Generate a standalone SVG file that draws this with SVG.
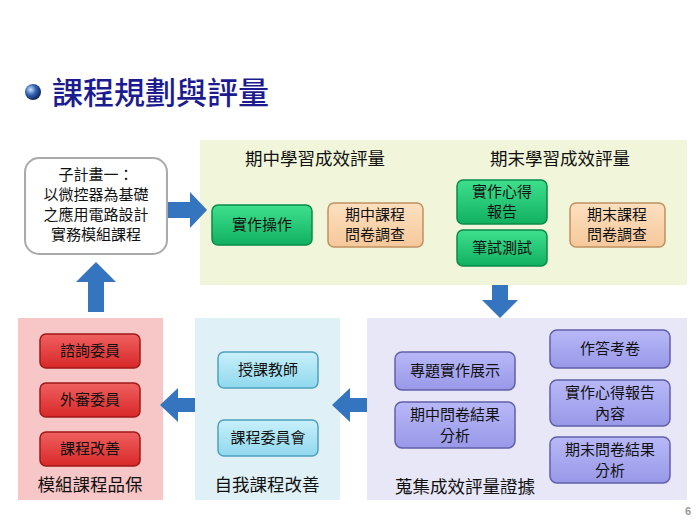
<svg xmlns="http://www.w3.org/2000/svg" width="700" height="525" viewBox="0 0 700 525">
<defs>
<radialGradient id="ball" cx="0.35" cy="0.35" r="0.7"><stop offset="0" stop-color="#cfe0ff"/><stop offset="0.5" stop-color="#3060b0"/><stop offset="1" stop-color="#102050"/></radialGradient>
<linearGradient id="gG" x1="0" y1="0" x2="0" y2="1"><stop offset="0" stop-color="#3ee08e"/><stop offset="1" stop-color="#10b060"/></linearGradient>
<linearGradient id="gO" x1="0" y1="0" x2="0" y2="1"><stop offset="0" stop-color="#fde0c0"/><stop offset="1" stop-color="#f6c89a"/></linearGradient>
<linearGradient id="gP" x1="0" y1="0" x2="0" y2="1"><stop offset="0" stop-color="#b8b8f8"/><stop offset="1" stop-color="#9898e8"/></linearGradient>
<linearGradient id="gC" x1="0" y1="0" x2="0" y2="1"><stop offset="0" stop-color="#c8f0fa"/><stop offset="1" stop-color="#90d8ee"/></linearGradient>
<linearGradient id="gR" x1="0" y1="0" x2="0" y2="1"><stop offset="0" stop-color="#f06060"/><stop offset="1" stop-color="#d82828"/></linearGradient>
</defs>
<style>
text{font-family:"Noto Sans CJK TC","Noto Sans CJK SC",sans-serif;text-anchor:middle;fill:#111}
.t{font-size:15px}
.h{font-size:17.5px}
.g{fill:url(#gG);stroke:#0a8a48;stroke-width:1.5}
.o{fill:url(#gO);stroke:#c09060;stroke-width:1.5}
.p{fill:url(#gP);stroke:#6060a8;stroke-width:1.5}
.c{fill:url(#gC);stroke:#50a0c0;stroke-width:1.5}
.r{fill:url(#gR);stroke:#a01818;stroke-width:1.5}
.ar{fill:#3575c0}
</style>
<rect width="700" height="525" fill="#fff"/>
<circle cx="33" cy="92" r="8" fill="url(#ball)"/>
<text x="52" y="104" style="font-size:31px;text-anchor:start;fill:#1c1c90;font-weight:500">課程規劃與評量</text>
<g id="panels">
<rect x="200" y="140" width="487" height="145" fill="#f1f6da"/>
<rect x="367" y="318" width="320" height="182" fill="#e7e7f8"/>
<rect x="195" y="318" width="145" height="182" fill="#dff1f6"/>
<rect x="18" y="318" width="145" height="182" fill="#f7c6c6"/>
</g>
<g id="connectors">
<polygon class="ar" points="168,202 190,202 190,192 207,210 190,228 190,218 168,218"/>
<polygon class="ar" points="492,285 508,285 508,300 518,300 500,318 482,300 492,300"/>
<polygon class="ar" points="367,398 350,398 350,388 332,405 350,422 350,412 367,412"/>
<polygon class="ar" points="195,398 178,398 178,388 160,405 178,422 178,412 195,412"/>
<polygon class="ar" points="88,312 88,282 76,282 96,262 116,282 104,282 104,312"/>
</g>
<g id="n-top">
<rect x="25" y="158" width="142" height="96" rx="14" fill="#fff" stroke="#aaa" stroke-width="2"/>
<text class="t" x="96" y="180">子計畫一：</text>
<text class="t" x="96" y="200">以微控器為基礎</text>
<text class="t" x="96" y="220">之應用電路設計</text>
<text class="t" x="96" y="240">實務模組課程</text>
</g>
<g id="n-mid"><text class="h" x="315" y="165">期中學習成效評量</text></g>
<g id="n-end"><text class="h" x="560" y="165">期末學習成效評量</text></g>
<g id="n1"><rect class="g" x="212" y="205" width="100" height="40" rx="6"/><text class="t" x="262" y="230">實作操作</text></g>
<g id="n2"><rect class="o" x="328" y="203" width="95" height="44" rx="6"/><text class="t" x="375" y="220">期中課程</text><text class="t" x="375" y="240">問卷調查</text></g>
<g id="n3"><rect class="g" x="457" y="180" width="90" height="44" rx="6"/><text class="t" x="502" y="197">實作心得</text><text class="t" x="502" y="217">報告</text></g>
<g id="n4"><rect class="g" x="457" y="230" width="90" height="36" rx="6"/><text class="t" x="502" y="253">筆試測試</text></g>
<g id="n5"><rect class="o" x="570" y="203" width="95" height="44" rx="6"/><text class="t" x="617" y="220">期末課程</text><text class="t" x="617" y="240">問卷調查</text></g>
<g id="n6"><rect class="p" x="395" y="352" width="120" height="38" rx="7"/><text class="t" x="455" y="376">專題實作展示</text></g>
<g id="n7"><rect class="p" x="395" y="402" width="120" height="46" rx="7"/><text class="t" x="455" y="420">期中問卷結果</text><text class="t" x="455" y="441">分析</text></g>
<g id="n8"><rect class="p" x="550" y="330" width="120" height="38" rx="7"/><text class="t" x="610" y="354">作答考卷</text></g>
<g id="n9"><rect class="p" x="550" y="380" width="120" height="46" rx="7"/><text class="t" x="610" y="398">實作心得報告</text><text class="t" x="610" y="419">內容</text></g>
<g id="n10"><rect class="p" x="550" y="437" width="120" height="46" rx="7"/><text class="t" x="610" y="455">期末問卷結果</text><text class="t" x="610" y="476">分析</text></g>
<g id="n11"><text class="h" x="465" y="493">蒐集成效評量證據</text></g>
<g id="n12"><rect class="c" x="218" y="352" width="100" height="36" rx="6"/><text class="t" x="268" y="375">授課教師</text></g>
<g id="n13"><rect class="c" x="218" y="420" width="100" height="36" rx="6"/><text class="t" x="268" y="443">課程委員會</text></g>
<g id="n14"><text class="h" x="267" y="491">自我課程改善</text></g>
<g id="n15"><rect class="r" x="40" y="334" width="100" height="34" rx="6"/><text class="t" x="90" y="356">諮詢委員</text></g>
<g id="n16"><rect class="r" x="40" y="383" width="100" height="34" rx="6"/><text class="t" x="90" y="405">外審委員</text></g>
<g id="n17"><rect class="r" x="40" y="432" width="100" height="34" rx="6"/><text class="t" x="90" y="454">課程改善</text></g>
<g id="n18"><text class="h" x="90" y="491">模組課程品保</text></g>
<text x="688" y="515" style="font-family:'Liberation Sans',sans-serif;font-size:11px;font-weight:bold;fill:#999">6</text>
</svg>
